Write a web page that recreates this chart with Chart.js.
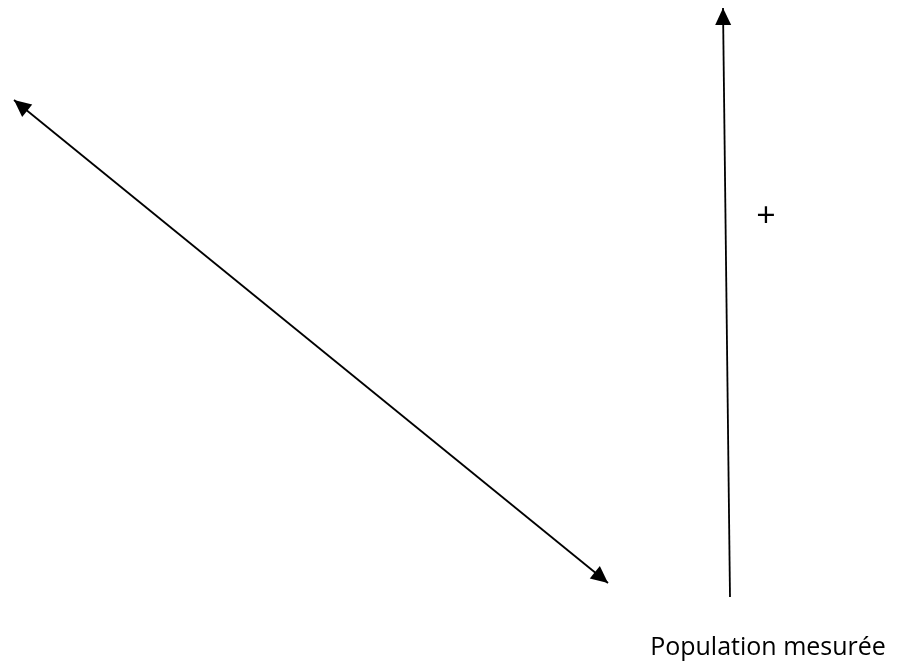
<!DOCTYPE html>
<html>
<head>
<meta charset="utf-8">
<script src="https://cdn.jsdelivr.net/npm/chart.js@4"></script>
<style>
  body { margin: 0; background: #fff; }
  canvas { display: block; }
</style>
</head>
<body>
<canvas id="diagram" width="900" height="666"></canvas>
<script>
// line endpoints, in picture units (x right, y down)
const diagonalX = [14, 608];
const diagonalY = [100, 583];
const verticalX = [730, 723];
const verticalY = [597, 8];

// text marks
const labelTexts = ['+', 'Population mesurée'];
const labelX = [766, 768];
const labelY = [217, 655];

const toPoints = (xs, ys) => xs.map((x, i) => ({ x: x, y: ys[i] }));

// arrowheads at the ends of each line, positions taken from the scales
const arrowPlugin = {
  id: 'arrows',
  afterDatasetsDraw(chart) {
    const { ctx, scales } = chart;
    const head = (from, to) => {
      const x1 = scales.x.getPixelForValue(from.x), y1 = scales.y.getPixelForValue(from.y);
      const x2 = scales.x.getPixelForValue(to.x), y2 = scales.y.getPixelForValue(to.y);
      const a = Math.atan2(y2 - y1, x2 - x1);
      const len = 17, half = 8;
      ctx.beginPath();
      ctx.moveTo(x2, y2);
      ctx.lineTo(x2 - len * Math.cos(a) + half * Math.sin(a), y2 - len * Math.sin(a) - half * Math.cos(a));
      ctx.lineTo(x2 - len * Math.cos(a) - half * Math.sin(a), y2 - len * Math.sin(a) + half * Math.cos(a));
      ctx.closePath();
      ctx.fill();
    };
    ctx.save();
    ctx.fillStyle = '#000';
    chart.data.datasets.forEach(ds => {
      const p = ds.data;
      const n = p.length;
      if (ds.arrowEnd) head(p[n - 2], p[n - 1]);
      if (ds.arrowStart) head(p[1], p[0]);
    });

    ctx.textAlign = 'center';
    labelTexts.forEach((t, i) => {
      ctx.font = i === 0 ? '34px "Open Sans"' : '25px "Open Sans"';
      ctx.textBaseline = i === 0 ? 'middle' : 'alphabetic';
      ctx.fillText(t, scales.x.getPixelForValue(labelX[i]), scales.y.getPixelForValue(labelY[i]));
    });
    ctx.restore();
  }
};

new Chart(document.getElementById('diagram'), {
  type: 'scatter',
  data: {
    datasets: [
      {
        data: toPoints(diagonalX, diagonalY),
        showLine: true,
        borderColor: '#000',
        borderWidth: 1.8,
        pointRadius: 0,
        arrowStart: true,
        arrowEnd: true
      },
      {
        data: toPoints(verticalX, verticalY),
        showLine: true,
        borderColor: '#000',
        borderWidth: 1.8,
        pointRadius: 0,
        arrowEnd: true
      }
    ]
  },
  options: {
    responsive: false,
    animation: false,
    layout: { padding: 0 },
    plugins: { legend: { display: false }, tooltip: { enabled: false } },
    scales: {
      x: { type: 'linear', min: 0, max: 900, display: false },
      y: { type: 'linear', min: 0, max: 666, reverse: true, display: false }
    }
  },
  plugins: [arrowPlugin]
});
</script>
</body>
</html>
